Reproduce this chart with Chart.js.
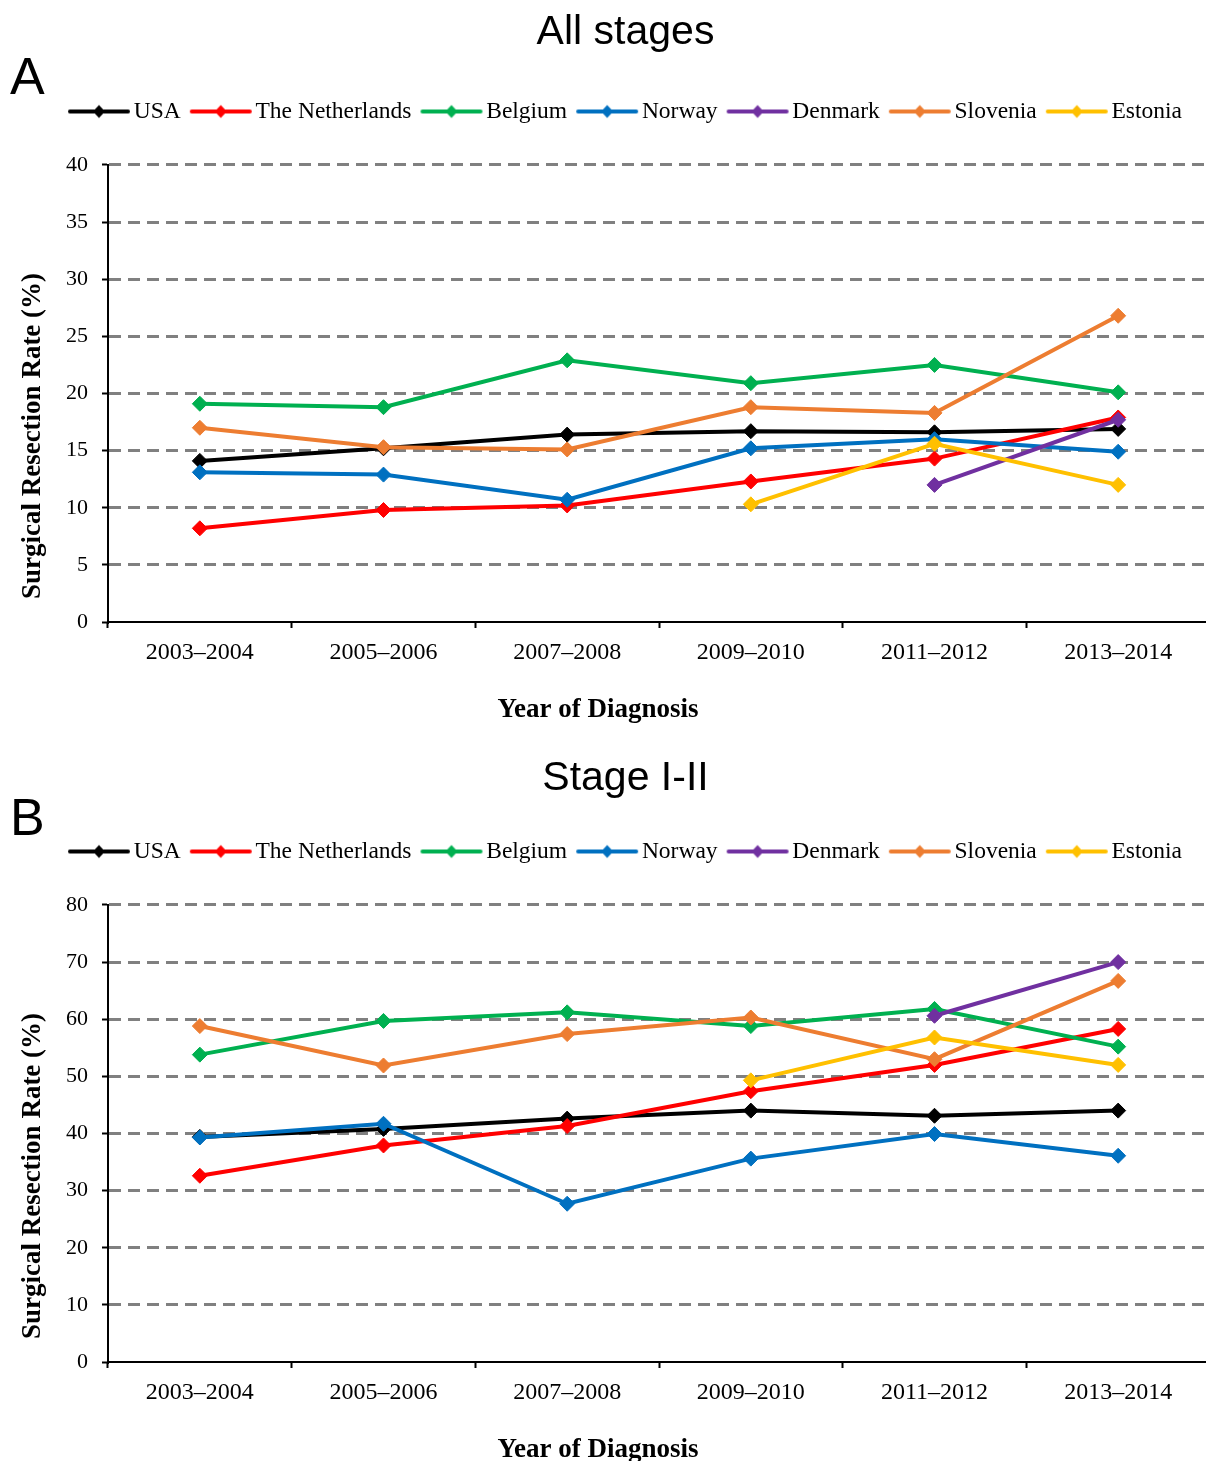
<!DOCTYPE html>
<html>
<head>
<meta charset="utf-8">
<script src="https://cdn.jsdelivr.net/npm/chart.js@4/dist/chart.umd.min.js"></script>
<style>
  html, body { margin: 0; padding: 0; background: #ffffff; overflow: hidden; }
  #wrap { width: 1206px; overflow: hidden; }
  canvas { display: block; }
</style>
</head>
<body>
<div id="wrap">
<canvas id="chartA" width="1210" height="740"></canvas>
<canvas id="chartB" width="1210" height="721"></canvas>
</div>
<script>
// ---------- data ----------
const categories = ['2003–2004', '2005–2006', '2007–2008', '2009–2010', '2011–2012', '2013–2014'];
const countries = ['USA', 'The Netherlands', 'Belgium', 'Norway', 'Denmark', 'Slovenia', 'Estonia'];
const countryColors = ['#000000', '#FF0000', '#00B050', '#0070C0', '#7030A0', '#ED7D31', '#FFC000'];

// Panel A: All stages
const allUSA         = [14.1, 15.2, 16.4, 16.7, 16.6, 16.9];
const allNetherlands = [8.2, 9.8, 10.2, 12.3, 14.3, 17.9];
const allBelgium     = [19.1, 18.8, 22.9, 20.9, 22.5, 20.1];
const allNorway      = [13.1, 12.9, 10.7, 15.2, 16.0, 14.9];
const allDenmark     = [null, null, null, null, 12.0, 17.7];
const allSlovenia    = [17.0, 15.3, 15.1, 18.8, 18.3, 26.8];
const allEstonia     = [null, null, null, 10.3, 15.6, 12.0];

// Panel B: Stage I-II
const earlyUSA         = [39.4, 40.8, 42.6, 44.0, 43.1, 44.0];
const earlyNetherlands = [32.6, 37.9, 41.3, 47.4, 52.0, 58.3];
const earlyBelgium     = [53.8, 59.7, 61.2, 58.8, 61.8, 55.2];
const earlyNorway      = [39.3, 41.7, 27.7, 35.6, 39.9, 36.1];
const earlyDenmark     = [null, null, null, null, 60.6, 70.0];
const earlySlovenia    = [58.8, 51.9, 57.4, 60.3, 53.0, 66.7];
const earlyEstonia     = [null, null, null, 49.3, 56.8, 52.0];

const yTicksA = { max: 40, step: 5 };
const yTicksB = { max: 80, step: 10 };

const allSeries = [allUSA, allNetherlands, allBelgium, allNorway, allDenmark, allSlovenia, allEstonia];
const earlySeries = [earlyUSA, earlyNetherlands, earlyBelgium, earlyNorway, earlyDenmark, earlySlovenia, earlyEstonia];

// ---------- helpers ----------
function legendIcon(color) {
  const c = document.createElement('canvas');
  c.width = 71; c.height = 16;
  const ctx = c.getContext('2d');
  ctx.strokeStyle = color;
  ctx.lineWidth = 4;
  ctx.lineCap = 'round';
  ctx.beginPath();
  ctx.moveTo(10, 8); ctx.lineTo(68, 8);
  ctx.stroke();
  ctx.fillStyle = color;
  ctx.beginPath();
  ctx.moveTo(39, 1.5); ctx.lineTo(45, 8); ctx.lineTo(39, 14.5); ctx.lineTo(33, 8);
  ctx.closePath();
  ctx.fill();
  return c;
}
const icons = countryColors.map(legendIcon);

const panelText = {
  id: 'panelText',
  afterDraw(chart, args, opts) {
    const ctx = chart.ctx;
    const ca = chart.chartArea;
    ctx.save();
    ctx.fillStyle = '#000';
    // panel letter
    ctx.font = '52px "Liberation Sans", Arial, sans-serif';
    ctx.textAlign = 'left';
    ctx.textBaseline = 'alphabetic';
    ctx.fillText(opts.letter, opts.letterX, opts.letterY);
    // x axis title
    ctx.font = 'bold 27px "Liberation Serif", "Times New Roman", serif';
    ctx.textAlign = 'center';
    ctx.textBaseline = 'middle';
    ctx.fillText('Year of Diagnosis', 598, ca.bottom + 88);
    // y axis title
    ctx.translate(33, ca.bottom - 186);
    ctx.rotate(-Math.PI / 2);
    ctx.fillText('Surgical Resection Rate (%)', 0, 0);
    ctx.restore();
  }
};

function makeChart(id, title, series, yt, titlePad, xHeight, letter, letterY) {
  const datasets = series.map((vals, i) => ({
    label: countries[i],
    data: vals,
    borderColor: countryColors[i],
    backgroundColor: countryColors[i],
    borderWidth: 4,
    pointStyle: 'rectRot',
    pointRadius: 7.5,
    pointBorderWidth: 1,
    pointHoverRadius: 7.5,
    tension: 0,
    order: series.length - i
  }));
  return new Chart(document.getElementById(id), {
    type: 'line',
    data: { labels: categories, datasets },
    plugins: [panelText],
    options: {
      responsive: false,
      animation: false,
      events: [],
      layout: { autoPadding: false, padding: { left: 41, right: 0, top: 0, bottom: 0 } },
      plugins: {
        title: {
          display: true,
          text: title,
          color: '#000',
          font: { family: '"Liberation Sans", Arial, sans-serif', size: 41, weight: 'normal', lineHeight: 1.2 },
          padding: titlePad
        },
        subtitle: {
          display: true,
          text: '',
          weight: 500,
          font: { size: 10, lineHeight: 1.2 },
          padding: { top: 19.75, bottom: 0 }
        },
        legend: {
          display: true,
          position: 'top',
          labels: {
            color: '#000',
            font: { family: '"Liberation Serif", "Times New Roman", serif', size: 23.5 },
            usePointStyle: true,
            pointStyleWidth: 53,
            padding: 10,
            generateLabels(chart) {
              const items = Chart.defaults.plugins.legend.labels.generateLabels(chart);
              items.forEach(it => { it.pointStyle = icons[it.datasetIndex]; });
              return items;
            },
            sort: (a, b) => a.datasetIndex - b.datasetIndex
          }
        },
        tooltip: { enabled: false },
        panelText: { letter, letterX: 10, letterY }
      },
      scales: {
        x: {
          type: 'category',
          offset: true,
          grid: {
            display: true,
            offset: true,
            drawOnChartArea: false,
            drawTicks: true,
            tickLength: 6,
            tickColor: '#000',
            tickWidth: 2
          },
          border: { display: true, color: '#000', width: 2 },
          ticks: {
            color: '#000',
            font: { family: '"Liberation Serif", "Times New Roman", serif', size: 24 },
            padding: 10,
            maxRotation: 0,
            autoSkip: false
          },
          afterFit(scale) { scale.height = xHeight; }
        },
        y: {
          min: 0,
          max: yt.max,
          ticks: {
            stepSize: yt.step,
            color: '#000',
            font: { family: '"Liberation Serif", "Times New Roman", serif', size: 22 },
            padding: 14
          },
          grid: {
            color: ctx => (ctx.tick && ctx.tick.value === 0) ? 'rgba(0,0,0,0)' : '#808080',
            lineWidth: 3,
            tickLength: 6,
            tickColor: '#000',
            tickWidth: 2,
            tickBorderDash: []
          },
          border: { display: true, color: '#000', width: 2, dash: [12, 7] },
          afterFit(scale) { scale.width = 67; }
        }
      }
    }
  });
}

makeChart('chartA', 'All stages', allSeries, yTicksA, { top: 8, bottom: 32.5 }, 118, 'A', 94);
makeChart('chartB', 'Stage I-II', earlySeries, yTicksB, { top: 14, bottom: 26.5 }, 99, 'B', 95);
</script>
</body>
</html>
